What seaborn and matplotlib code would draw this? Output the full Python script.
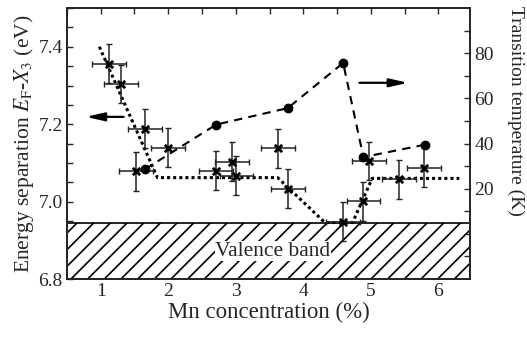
import matplotlib
matplotlib.use("Agg")
import matplotlib.pyplot as plt
import seaborn as sns
import pandas as pd
from matplotlib.ticker import MultipleLocator, FixedLocator

# ---- data ----
mn_conc = [1.12, 1.30, 1.52, 1.66, 2.00, 2.71, 2.94, 3.01, 3.62, 3.77, 4.59, 4.89, 4.97, 5.42, 5.79]
energy_sep = [7.356, 7.304, 7.078, 7.188, 7.139, 7.080, 7.103, 7.067, 7.138, 7.033, 6.948, 7.001, 7.105, 7.058, 7.088]
energy_err = [0.05] * 15
conc_err = [0.25] * 15

guide_x = [0.98, 1.84, 3.62, 4.32, 4.73, 5.02, 6.31]
guide_y = [7.40, 7.062, 7.062, 6.946, 6.946, 7.06, 7.06]

temp_x = [1.66, 2.71, 3.77, 4.59, 4.89, 5.80]
temp_k = [28.7, 48.4, 55.7, 75.7, 34.0, 39.5]

valence_top = 6.945

sns.set_style("ticks")
plt.rcParams['font.family'] = ['Liberation Serif', 'DejaVu Serif']
plt.rcParams['mathtext.fontset'] = 'stix'
plt.rcParams['hatch.linewidth'] = 1.2

fig = plt.figure(figsize=(5.27, 3.37), dpi=100)
ax = fig.add_axes([0.127, 0.172, 0.765, 0.804])

# valence band
ax.axhspan(6.8, valence_top, facecolor='white', edgecolor='black', hatch='//', lw=1.2, zorder=1)
ax.text(3.55, 6.872, "Valence band", ha='center', va='center', fontsize=15.5, zorder=2,
        bbox=dict(facecolor='white', edgecolor='none', pad=0.3))

# guide dotted line
gdf = pd.DataFrame({"x": guide_x, "y": guide_y})
sns.lineplot(data=gdf, x="x", y="y", ax=ax, color='black', lw=2.2, linestyle=(0, (1, 1)),
             sort=False, zorder=3, legend=False)

# error bars + star markers
ax.errorbar(mn_conc, energy_sep, yerr=energy_err, xerr=conc_err, fmt='none',
            ecolor='#222222', elinewidth=1.1, capsize=2.5, capthick=1.0, zorder=4)
edf = pd.DataFrame({"x": mn_conc, "y": energy_sep})
sns.scatterplot(data=edf, x="x", y="y", ax=ax, marker='x', color='black', s=28,
                linewidth=2.0, zorder=5, legend=False)

ax.set_xlim(0.5, 6.47)
ax.set_ylim(6.8, 7.5)
ax.xaxis.set_major_locator(MultipleLocator(1))
ax.xaxis.set_minor_locator(MultipleLocator(0.5))
ax.yaxis.set_major_locator(FixedLocator([6.8, 7.0, 7.2, 7.4]))
ax.yaxis.set_minor_locator(MultipleLocator(0.05))
ax.set_yticklabels(["6.8", "7.0", "7.2", "7.4"])
ax.tick_params(axis='both', which='both', direction='in', length=4, width=1.0, labelsize=14, pad=3)
ax.tick_params(axis='x', which='both', top=True)
ax.tick_params(axis='y', which='both', right=False)
ax.set_xlabel("Mn concentration (%)", fontsize=16.5, labelpad=1)
ax.set_ylabel(r"Energy separation $E_\mathrm{F}$-$X_3$ (eV)", fontsize=15.5, labelpad=2)
for sp in ax.spines.values():
    sp.set_linewidth(1.3)

# transition temperature
ax2 = ax.twinx()
tdf = pd.DataFrame({"x": temp_x, "T": temp_k})
sns.lineplot(data=tdf, x="x", y="T", ax=ax2, color='black', lw=1.5, linestyle=(0, (4, 3)),
             marker='o', markersize=6.3, markeredgecolor='black', sort=False, legend=False, zorder=5)
ax2.set_ylim(-20, 100)
ax2.yaxis.set_major_locator(FixedLocator([20, 40, 60, 80]))
ax2.yaxis.set_minor_locator(FixedLocator([-10, 0, 10, 30, 50, 70, 90]))
ax2.tick_params(axis='y', which='both', direction='in', length=4, width=1.0, labelsize=14, pad=3)
ax2.set_ylabel("Transition temperature (K)", fontsize=14, rotation=-90, va='center')
ax2.yaxis.set_label_coords(1.112, 0.62)
ax2.set_xlabel("")
for sp in ax2.spines.values():
    sp.set_linewidth(1.3)

# arrows
arrow_style = dict(arrowstyle='-|>,head_length=1.1,head_width=0.25', color='black', lw=1.6,
                   shrinkA=0, shrinkB=0)
ax.annotate("", xy=(0.78, 7.219), xytext=(1.34, 7.219), arrowprops=arrow_style, zorder=6)
ax.annotate("", xy=(5.55, 7.307), xytext=(4.83, 7.307), arrowprops=arrow_style, zorder=6)

fig.savefig("out.png", dpi=100)
